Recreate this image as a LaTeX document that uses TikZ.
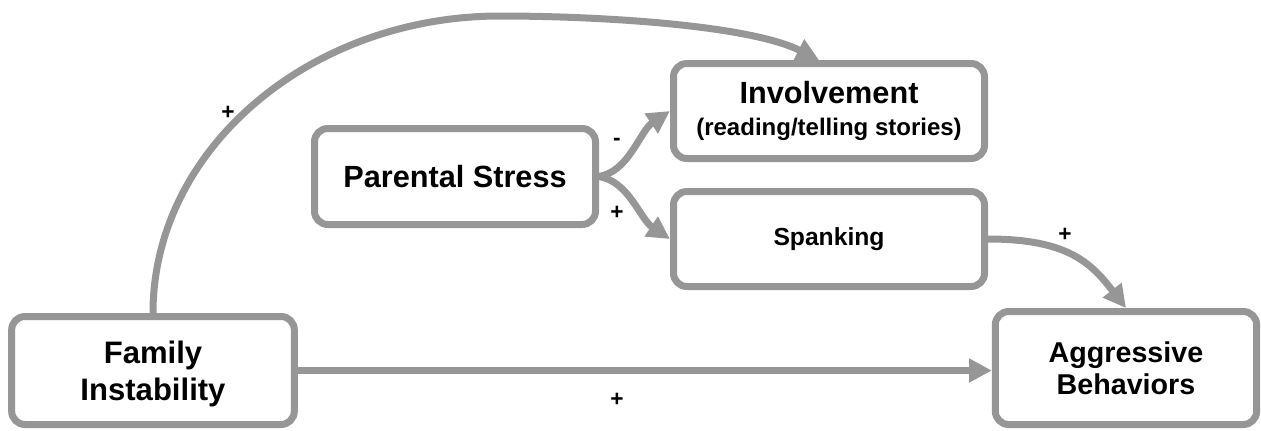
\documentclass[tikz,border=0pt]{standalone}
\usepackage{xcolor}
\usepackage{fontspec}
\setmainfont{Liberation Sans}
\usetikzlibrary{arrows.meta}

\begin{document}
\begin{tikzpicture}[x=0.75pt,y=0.75pt,yscale=-1,xscale=1,
  box/.style={draw={rgb, 255:red, 150; green, 150; blue, 150 }, line width=5.25pt, rounded corners=10pt, fill=white, align=center, inner sep=0pt, font=\fontsize{23}{25.5}\selectfont\bfseries},
  link/.style={color={rgb, 255:red, 150; green, 150; blue, 150 }, line width=5.25pt, -{Triangle[length=17pt,width=17pt]}},
  sign/.style={inner sep=0pt, font=\fontsize{17}{19}\selectfont\bfseries}]
%uncomment if require: \path (0,430); %set diagram left start at 0, and has height of 430
\useasboundingbox (0,0) rectangle (1261,430);

%Shape: Rectangle [Family Instability]
\node [box, minimum width=212pt, minimum height=81pt, text depth=0pt, font=\fontsize{23.3}{27.75}\selectfont\bfseries] (famInst) at (153,370.5) {Family\\Instability};
%Shape: Rectangle [Parental Stress]
\node [box, minimum width=210.75pt, minimum height=72pt] (parStress) at (455,176.5) {Parental Stress};
%Shape: Rectangle [Involvement]
\node [box, minimum width=233.25pt, minimum height=71.25pt, font=\fontsize{23}{23.5}\selectfont\bfseries] (involve) at (829,111) {Involvement\\\fontsize{18}{23.5}\selectfont (reading/telling stories)};
%Shape: Rectangle [Spanking]
\node [box, minimum width=233.25pt, minimum height=71.25pt, font=\fontsize{18.5}{22}\selectfont\bfseries] (spank) at (829,239) {Spanking};
%Shape: Rectangle [Aggressive Behaviors]
\node [box, minimum width=196pt, minimum height=84.75pt, font=\fontsize{21.5}{24}\selectfont\bfseries] (aggBeh) at (1126,368) {Aggressive\\Behaviors};

%top of the long arc
\coordinate (arcTop) at (500,16);

%Curve Lines [Family Instability to Involvement]
\draw [link] (famInst.north) .. controls +(0,-164) and +(-190,0) .. (arcTop) .. controls +(100,0) and +(-70,-35) .. ([xshift=-7.5pt]involve.north) ;
%Straight Lines [Family Instability to Aggressive Behaviors]
\draw [link] (famInst.east) -- (famInst.east -| aggBeh.west) ;
%Curve Lines [Parental Stress to Involvement]
\draw [link] (parStress.east) .. controls +(30,-5) and +(-30,20) .. (involve.west) ;
%Curve Lines [Parental Stress to Spanking]
\draw [link] (parStress.east) .. controls +(30,5) and +(-30,-20) .. (spank.west) ;
%Curve Lines [Spanking to Aggressive Behaviors]
\draw [link] (spank.east) .. controls +(80,0) and +(-35,-45) .. (aggBeh.north) ;

% Text Node
\node [sign] (signArc) at (228,113) {+};
% Text Node
\node [sign] (signInv) at (617,142) {-};
% Text Node
\node [sign] (signSpank) at (617,213) {+};
% Text Node
\node [sign] (signAgg) at (1065,235) {+};
% Text Node
\node [sign] (signDirect) at (617,400) {+};

\end{tikzpicture}
\end{document}
